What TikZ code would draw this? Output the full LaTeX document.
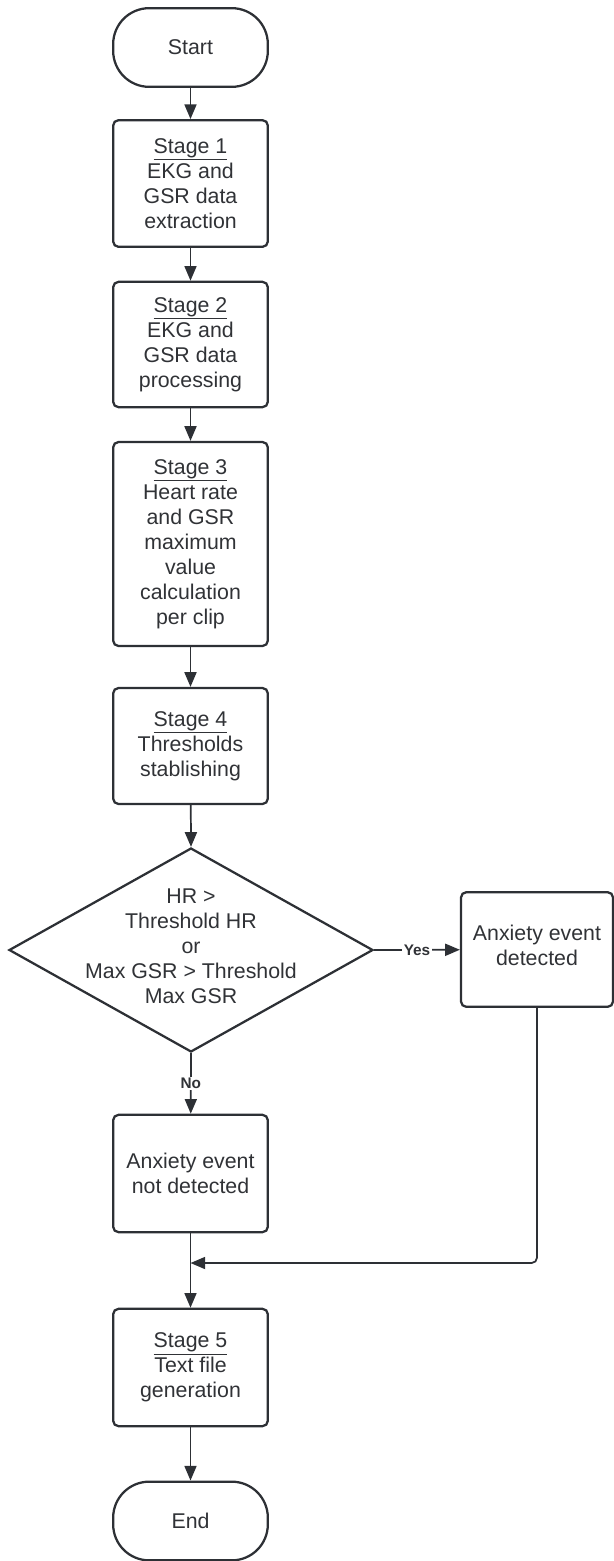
\documentclass[tikz,border=0pt]{standalone}
\usepackage{xcolor}
\usepackage{fontspec}
\setmainfont{Liberation Sans}
\usepackage{tikz}
\usetikzlibrary{shapes.geometric, arrows.meta}
\definecolor{linegray}{HTML}{2D3035}
\definecolor{textgray}{HTML}{303236}
\tikzstyle{startstop} = [rectangle, rounded corners=27pt, draw=linegray, line width=1.7pt, minimum width=116pt, minimum height=59pt, text=textgray, font=\fontsize{16}{18.75}\selectfont]
\tikzstyle{process} = [rectangle, rounded corners=4pt, draw=linegray, line width=1.7pt, minimum width=116pt, align=center, text=textgray, font=\fontsize{16}{18.75}\selectfont]
\tikzstyle{decision} = [diamond, draw=linegray, line width=1.7pt, inner sep=0pt, minimum width=273pt, minimum height=153pt]
\tikzstyle{arrow} = [draw=linegray, line width=1.3pt, -{Triangle[length=11pt,width=9pt]}]
\tikzstyle{answer} = [fill=white, inner sep=1pt, text=textgray, font=\fontsize{11.5}{13}\selectfont\bfseries]

\begin{document}
\begin{tikzpicture}[x=0.75pt, y=-0.75pt]
            \useasboundingbox (0,0) rectangle (614,1561);
            \node[startstop] (start) at (190.5,47.5) {Start};
            \node[process, minimum height=95pt] (stage1) at (190.5,183.5) {\underline{Stage 1}\\EKG and\\GSR data\\extraction};
            \node[process, minimum height=94pt] (stage2) at (190.5,344.5) {\underline{Stage 2}\\EKG and\\GSR data\\processing};
            \node[process, minimum height=153pt] (stage3) at (190.5,544) {\underline{Stage 3}\\Heart rate\\and GSR\\maximum\\value\\calculation\\per clip};
            \node[process, minimum height=87pt] (stage4) at (190.5,746) {\underline{Stage 4}\\Thresholds\\stablishing};
            \node[decision] (dec) at (191,950) {};
            \node[align=center, text=textgray, font=\fontsize{16}{18.75}\selectfont] (dectext) at (191,946) {HR >\\Threshold HR\\or\\Max GSR > Threshold\\Max GSR};
            \node[process, minimum width=114pt, minimum height=86pt] (found) at (537,949.5) {};
            \node[align=center, text=textgray, font=\fontsize{16}{18.75}\selectfont] (foundtext) at (537,945) {Anxiety event\\detected};
            \node[process, minimum height=88pt] (notfound) at (190.5,1173.5) {Anxiety event\\not detected};
            \node[process, minimum height=88pt] (stage5) at (190.5,1367.5) {\underline{Stage 5}\\Text file\\generation};
            \node[startstop] (end) at (190.5,1521) {End};
            \coordinate (join) at (190.5,1263);

            % connectors
            \draw[arrow] (start) -- (stage1);
            \draw[arrow] (stage1) -- (stage2);
            \draw[arrow] (stage2) -- (stage3);
            \draw[arrow] (stage3) -- (stage4);
            \draw[arrow] (stage4) -- (dec.north);
            \draw[arrow] (dec.east) -- node[answer] {Yes} (found);
            \draw[arrow] (dec.south) -- node[answer] {No} (notfound);
            \draw[arrow, rounded corners=4pt] (found.south) |- (join);
            \draw[arrow] (notfound) -- (stage5);
            \draw[arrow] (stage5) -- (end);
        \end{tikzpicture}
\end{document}
